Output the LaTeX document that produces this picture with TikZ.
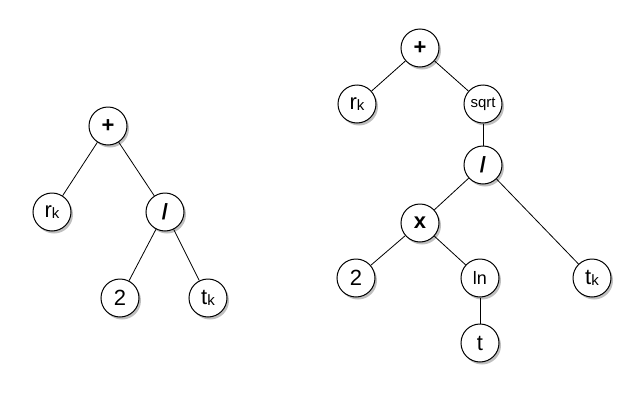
\documentclass[tikz,border=0pt]{standalone}
\usepackage{fontspec}
\setmainfont{Liberation Sans}
\usetikzlibrary{shadows}
\begin{document}
\begin{tikzpicture}[x=1pt,y=-1pt,
  tn/.style={circle,draw,line width=1pt,fill=white,minimum size=38pt,inner sep=0pt,font=\fontsize{22}{22}\selectfont,
    drop shadow={shadow xshift=2pt,shadow yshift=-2.5pt,fill=black!50}},
  ed/.style={line width=0.8pt}]
\useasboundingbox (0,0) rectangle (641,402);
\newcommand\rk{r\raisebox{-1pt}{\fontsize{15}{15}\selectfont k}}
\newcommand\tk{t\raisebox{-1pt}{\fontsize{15}{15}\selectfont k}}
% left tree
\node[tn] (a1) at (108,126) {\textbf{+}};
\node[tn] (a2) at (52,212) {\rk};
\node[tn] (a3) at (165,212) {\textbf{/}};
\node[tn] (a4) at (120,298) {2};
\node[tn] (a5) at (208,298) {\tk};
% right tree
\node[tn] (b1) at (420,48) {\textbf{+}};
\node[tn] (b2) at (357,104) {\rk};
\node[tn,font=\fontsize{15}{15}\selectfont] (b3) at (483,104) {sqrt};
\node[tn] (b4) at (483,165) {\textbf{/}};
\node[tn] (b5) at (420,223) {\textbf{x}};
\node[tn] (b6) at (356,278) {2};
\node[tn,font=\fontsize{18}{18}\selectfont] (b7) at (480,278) {ln};
\node[tn] (b8) at (592,278) {\tk};
\node[tn] (b9) at (480,343) {t};
\foreach \p/\c in {a1/a2,a1/a3,a3/a4,a3/a5,b1/b2,b1/b3,b3/b4,b4/b5,b4/b8,b5/b6,b5/b7,b7/b9}
  \draw[ed] (\p) -- (\c);
\end{tikzpicture}
\end{document}
